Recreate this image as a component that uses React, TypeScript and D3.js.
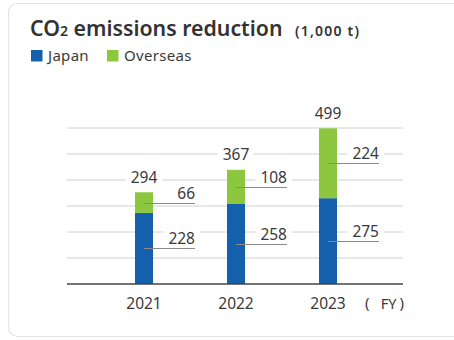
import React from "react";
import * as d3 from "d3";

const years = ["2021", "2022", "2023"];
const japan = [228, 258, 275];
const overseas = [66, 108, 224];
const totals = [294, 367, 499];
const seriesNames = ["Japan", "Overseas"];
const colors = ["#1560ad", "#8dc63f"];

const W = 454;
const H = 340;
const FONT = "'Noto Sans', 'Open Sans', sans-serif";

export default function App() {
  const x = d3.scaleBand().domain(years).range([98, 374]).paddingInner(0.8).paddingOuter(0.4);
  const y = d3.scaleLinear().domain([0, 500]).range([284, 128]);
  const gridVals = d3.range(0, 501, 500 / 6);
  const bw = 18;
  const stack = d3.stack<any>().keys(["japan", "overseas"])(
    years.map((yr, i) => ({ year: yr, japan: japan[i], overseas: overseas[i] }))
  );
  const textColor = "#3a3a3a";

  return (
    <svg width={W} height={H} style={{ position: "absolute", left: 0, top: 0, fontFamily: FONT }}>
      <rect x={8.5} y={3.5} width={470} height={333} rx={9} fill="#fff" stroke="#e3e3e3" strokeWidth={1.2} />
      {/* title */}
      <text x={30} y={36} fontSize={21.3} fontWeight={600} fill="#333">
        CO<tspan fontSize={14}>2</tspan>
        <tspan> emissions reduction</tspan>
      </text>
      <text x={295} y={36} fontSize={14} fontWeight={600} fill="#333" letterSpacing={1.2}>(1,000 t)</text>
      {/* legend */}
      {seriesNames.map((n, i) => (
        <g key={n} transform={`translate(${i === 0 ? 31 : 107},50)`}>
          <rect width={11.5} height={11.5} fill={colors[i]} />
          <text x={17} y={11} fontSize={15} fill={textColor} letterSpacing={0.3}>{n}</text>
        </g>
      ))}
      {/* grid */}
      {gridVals.slice(1).map((v) => (
        <line key={v} x1={67} x2={403} y1={y(v)} y2={y(v)} stroke="#d0d0d0" strokeWidth={1} />
      ))}
      {/* bars */}
      {stack.map((s, si) =>
        s.map((d, i) => {
          const cx = (x(years[i]) as number) + x.bandwidth() / 2;
          return (
            <rect key={si + "-" + i} x={cx - bw / 2} y={y(d[1])} width={bw} height={y(d[0]) - y(d[1])} fill={colors[si]} />
          );
        })
      )}
      {/* leader labels */}
      {stack.map((s, si) =>
        s.map((d, i) => {
          const cx = (x(years[i]) as number) + x.bandwidth() / 2;
          const ly = Math.round((y(d[0]) + y(d[1])) / 2) + 0.5;
          const val = si === 0 ? japan[i] : overseas[i];
          const tx = cx + 51;
          const tw = String(val).length * 8.9;
          return (
            <g key={"l" + si + "-" + i}>
              <rect x={tx - tw - 5} y={ly - 19} width={tw + 10} height={16} fill="#fff" />
              <line x1={cx} x2={tx} y1={ly} y2={ly} stroke="#8a8a8a" strokeWidth={1} />
              <text x={tx} y={ly - 5} textAnchor="end" fontSize={15.5} fill={textColor}>{val}</text>
            </g>
          );
        })
      )}
      {/* totals */}
      {totals.map((t, i) => {
        const cx = (x(years[i]) as number) + x.bandwidth() / 2;
        const ty = y(t) - 9;
        return (
          <g key={"t" + i}>
            <rect x={cx - 18} y={ty - 13} width={36} height={16} fill="#fff" />
            <text x={cx} y={ty} textAnchor="middle" fontSize={15.5} fill={textColor}>{t}</text>
          </g>
        );
      })}
      {/* baseline */}
      <line x1={67} x2={403} y1={284} y2={284} stroke="#444" strokeWidth={1.5} />
      {/* x labels */}
      {years.map((yr) => (
        <text key={yr} x={(x(yr) as number) + x.bandwidth() / 2} y={309} textAnchor="middle" fontSize={15.5} fill={textColor}>
          {yr}
        </text>
      ))}
      <text x={365} y={308} fontSize={15} fill={textColor}>(</text>
      <text x={388.5} y={309} fontSize={14.5} fill={textColor} textAnchor="middle">FY</text>
      <text x={404} y={308} fontSize={15} fill={textColor} textAnchor="end">)</text>
    </svg>
  );
}
